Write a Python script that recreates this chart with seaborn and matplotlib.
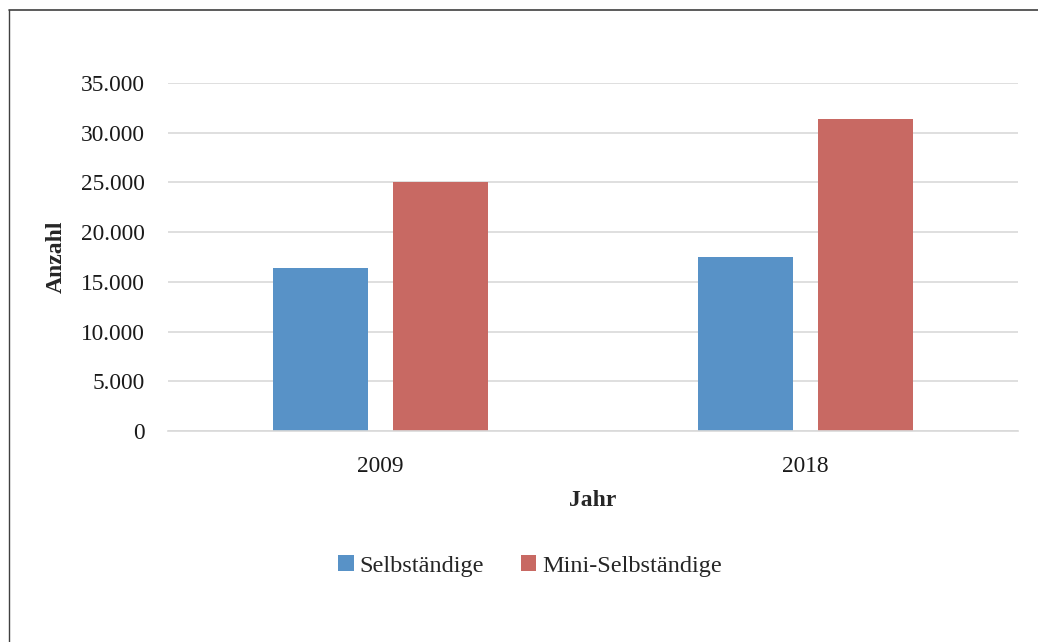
import matplotlib
matplotlib.use("Agg")
import matplotlib.pyplot as plt
from matplotlib.lines import Line2D
from matplotlib.patches import Patch
from matplotlib.ticker import FuncFormatter
import seaborn as sns
import pandas as pd

# Anzahl Selbständige und Mini-Selbständige nach Jahr
years = ["2009", "2018"]
series_names = ["Selbständige", "Mini-Selbständige"]
selbstaendige = [16350, 17500]
mini_selbstaendige = [25050, 31400]
colors = ["#5892C7", "#C86963"]
y_ticks = [0, 5000, 10000, 15000, 20000, 25000, 30000, 35000]

df = pd.DataFrame({
    "Jahr": years * 2,
    "Gruppe": [series_names[0]] * 2 + [series_names[1]] * 2,
    "Anzahl": selbstaendige + mini_selbstaendige,
})

sns.set_theme(style="white")
plt.rcParams["font.family"] = ["Liberation Serif", "DejaVu Serif"]

fig = plt.figure(figsize=(10.38, 6.42), dpi=100)
ax = fig.add_axes([168 / 1038, 1 - 431 / 642, 850 / 1038, 348 / 642])

sns.barplot(data=df, x="Jahr", y="Anzahl", hue="Gruppe", order=years,
            hue_order=series_names, palette=colors, width=0.565, gap=0.21,
            saturation=1, legend=False, ax=ax, edgecolor="none")

ax.set_ylim(0, 35000)
ax.set_xlim(-0.5, 1.5)
ax.set_yticks(y_ticks)
ax.yaxis.set_major_formatter(FuncFormatter(lambda v, p: f"{int(v):,}".replace(",", ".")))
ax.yaxis.grid(True, color="#d9d9d9", linewidth=1.2)
ax.set_axisbelow(True)
for side in ["top", "right", "left"]:
    ax.spines[side].set_visible(False)
ax.spines["bottom"].set_color("#d9d9d9")
ax.spines["bottom"].set_linewidth(1.2)
ax.tick_params(axis="both", length=0, labelsize=16.8, colors="#1a1a1a")
ax.tick_params(axis="y", pad=17)
ax.tick_params(axis="x", pad=18)

ax.set_xlabel("Jahr", fontsize=17, fontweight="bold", labelpad=9)
ax.set_ylabel("Anzahl", fontsize=17, fontweight="bold", labelpad=10)

handles = [Patch(facecolor=c, edgecolor="none", label=n) for c, n in zip(colors, series_names)]
fig.legend(handles=handles, loc="center", bbox_to_anchor=(530 / 1038, 1 - 566 / 642),
           ncol=2, frameon=False, fontsize=17.5, handlelength=0.65, handleheight=0.65,
           handletextpad=0.25, columnspacing=1.5)

# Rahmen oben und links
fig.add_artist(Line2D([9 / 1038, 1.0], [1 - 10 / 642, 1 - 10 / 642], color="#404040", linewidth=1.2))
fig.add_artist(Line2D([9 / 1038, 9 / 1038], [0.0, 1 - 10 / 642], color="#404040", linewidth=1.0))

fig.savefig("out.png", dpi=100)
